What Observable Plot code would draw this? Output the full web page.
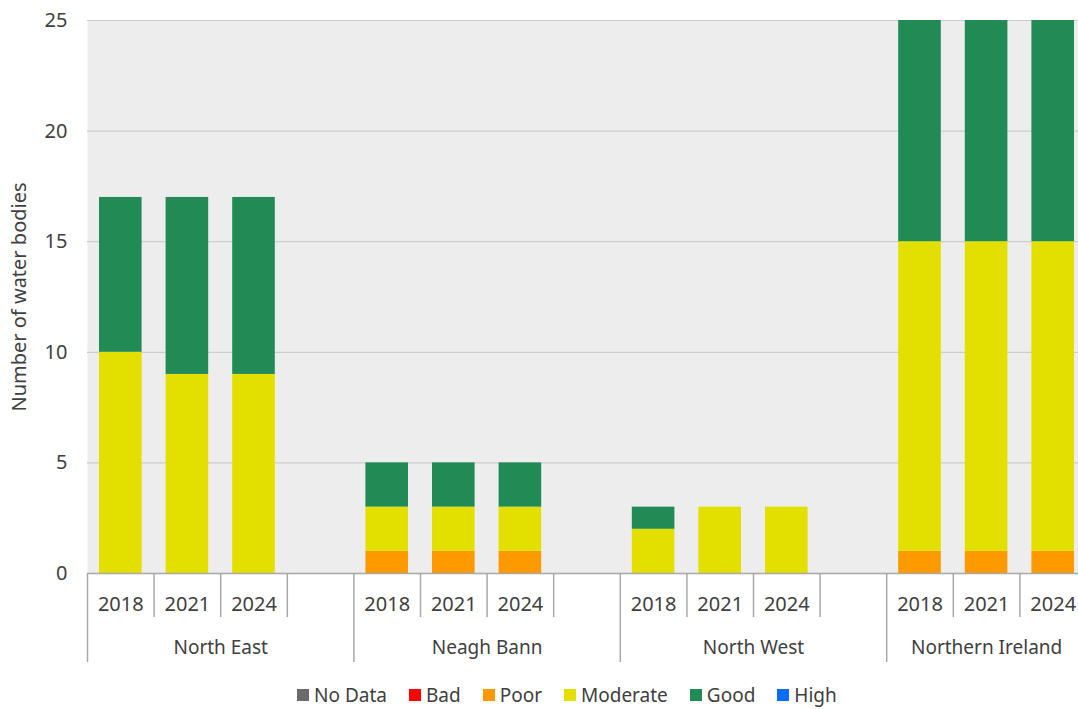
<!DOCTYPE html>
<html>
<head>
<meta charset="utf-8">
<script src="https://cdn.jsdelivr.net/npm/d3@7"></script>
<script src="https://cdn.jsdelivr.net/npm/@observablehq/plot@0.6"></script>
<style>
  html, body { margin: 0; padding: 0; background: #fff; overflow: hidden; }
  body { font-family: "Noto Sans", sans-serif; width: 1078px; }
  #chart svg { max-width: none !important; display: block; }
  #legend { display: flex; gap: 22px; align-items: center; margin-left: 297px; margin-top: 10px; height: 44px; font-size: 19px; color: #404040; }
  #legend .item { display: flex; align-items: center; gap: 5px; }
  #legend .sw { width: 12px; height: 12px; display: inline-block; }
</style>
</head>
<body>
<div id="chart"></div>
<div id="legend"></div>
<script>
const regions = ["North East", "Neagh Bann", "North West", "Northern Ireland"];
const years = ["2018", "2021", "2024"];
const statuses = ["No Data", "Bad", "Poor", "Moderate", "Good", "High"];
const statusColors = ["#6b6b6b", "#ff0000", "#ff9900", "#e3e000", "#228b55", "#0a6cff"];
// values per region, per year (2018, 2021, 2024)
const noData   = [[0,0,0],[0,0,0],[0,0,0],[0,0,0]];
const bad      = [[0,0,0],[0,0,0],[0,0,0],[0,0,0]];
const poor     = [[0,0,0],[1,1,1],[0,0,0],[1,1,1]];
const moderate = [[10,9,9],[2,2,2],[2,3,3],[14,14,14]];
const good     = [[7,8,8],[2,2,2],[1,0,0],[10,10,10]];
const high     = [[0,0,0],[0,0,0],[0,0,0],[0,0,0]];
const yTicks = [0, 5, 10, 15, 20, 25];

const series = [noData, bad, poor, moderate, good, high];
const slotsPerGroup = years.length + 1;
const nSlots = regions.length * slotsPerGroup - 1;

const rows = [];
regions.forEach((r, ri) => {
  years.forEach((y, yi) => {
    statuses.forEach((s, si) => {
      const v = series[si][ri][yi];
      if (v > 0) rows.push({region: r, year: y, slot: ri * slotsPerGroup + yi, status: s, value: v});
    });
  });
});

const yearCenters = [];
const shortBounds = [];
const longBounds = [];
regions.forEach((r, ri) => {
  longBounds.push(ri * slotsPerGroup);
  years.forEach((y, yi) => {
    yearCenters.push(ri * slotsPerGroup + yi + 0.5);
    shortBounds.push(ri * slotsPerGroup + yi + 1);
  });
});
const groupCenters = regions.map((r, ri) => (ri * slotsPerGroup + Math.min(nSlots, ri * slotsPerGroup + slotsPerGroup)) / 2);
const yearOf = c => years[Math.floor(c) % slotsPerGroup];
const regionOf = c => regions[Math.floor(c / slotsPerGroup)];

const plot = Plot.plot({
  width: 1086,
  height: 663,
  marginLeft: 87,
  marginRight: 0,
  marginTop: 20,
  marginBottom: 90,
  style: {fontFamily: "Noto Sans, sans-serif", fontSize: "19px", color: "#404040", background: "transparent", maxWidth: "none"},
  x: {domain: [0, nSlots], axis: null},
  y: {domain: [0, 25], axis: null},
  color: {domain: statuses, range: statusColors},
  marks: [
    Plot.frame({fill: "#ededed", stroke: null}),
    Plot.gridY(yTicks.filter(d => d > 0), {stroke: "#cdcdcd", strokeOpacity: 1, strokeWidth: 1.2}),
    Plot.rectY(rows, {x1: "slot", x2: d => d.slot + 1, y: "value", fill: "status", insetLeft: 12, insetRight: 12, order: statuses}),
    Plot.ruleY([0], {stroke: "#a8a8a8", strokeWidth: 1.5}),
    Plot.axisY(yTicks, {tickSize: 0, tickPadding: 20, fontSize: 20, label: "Number of water bodies", labelAnchor: "center", labelArrow: "none", labelOffset: 76, fill: "#404040"}),
    Plot.axisX(shortBounds, {tickSize: 44, tickFormat: () => "", stroke: "#a8a8a8", strokeWidth: 1.5, label: null}),
    Plot.axisX(longBounds, {tickSize: 89, tickFormat: () => "", stroke: "#a8a8a8", strokeWidth: 1.5, label: null}),
    Plot.axisX(yearCenters, {tickSize: 0, tickPadding: 23, tickFormat: yearOf, fontSize: 20, fill: "#404040", label: null}),
    Plot.axisX(groupCenters, {tickSize: 0, tickPadding: 67, tickFormat: regionOf, fontSize: 19, fill: "#404040", label: null})
  ]
});
document.getElementById("chart").appendChild(plot);

const legend = document.getElementById("legend");
statuses.forEach((s, i) => {
  const item = document.createElement("div");
  item.className = "item";
  const sw = document.createElement("span");
  sw.className = "sw";
  sw.style.background = statusColors[i];
  const t = document.createElement("span");
  t.textContent = s;
  item.appendChild(sw);
  item.appendChild(t);
  legend.appendChild(item);
});
</script>
</body>
</html>
